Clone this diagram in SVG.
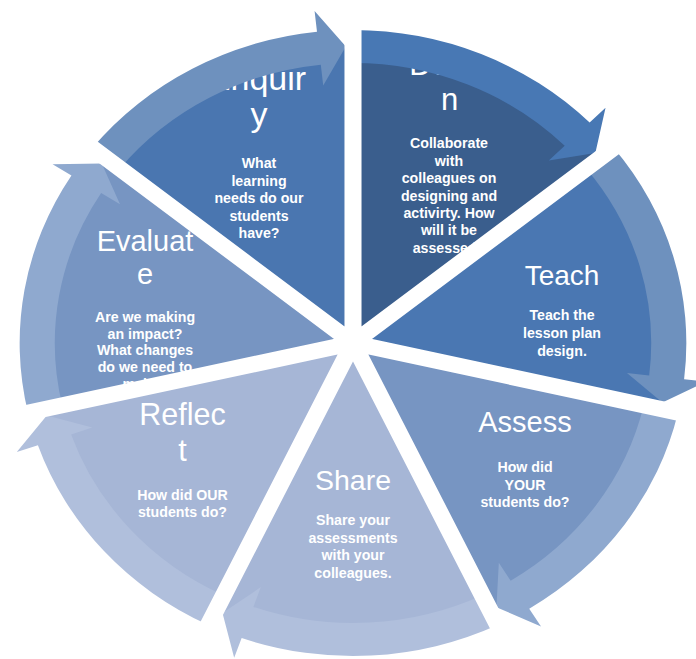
<svg xmlns="http://www.w3.org/2000/svg" width="696" height="659" viewBox="0 0 696 659">
<style>
.t{font-family:"Liberation Sans",Arial,sans-serif;font-size:29px;fill:#fff;text-anchor:middle}
.s{font-family:"Liberation Sans",Arial,sans-serif;font-size:14.2px;font-weight:bold;fill:#fff;text-anchor:middle}
.gap{stroke:#fff;stroke-width:16;fill:none}
</style>
<defs>
<clipPath id="cEnq"><path transform="translate(353 343) scale(1.065 1)" d="M0 0 L-232.20 -185.18 A297 297 0 0 1 0 -297 Z"/></clipPath>
<clipPath id="cDes"><path transform="translate(353 343) scale(1.065 1)" d="M0 0 L0 -297 A297 297 0 0 1 232.20 -185.18 Z"/></clipPath>
<clipPath id="cTea"><path transform="translate(353 343) scale(1.065 1)" d="M0 0 L232.20 -185.18 A297 297 0 0 1 289.55 66.09 Z"/></clipPath>
<clipPath id="cAss"><path transform="translate(353 343) scale(1.065 1)" d="M0 0 L289.55 66.09 A297 297 0 0 1 128.86 267.59 Z"/></clipPath>
<clipPath id="cSha"><path transform="translate(353 343) scale(1.065 1)" d="M0 0 L128.86 267.59 A297 297 0 0 1 -128.86 267.59 Z"/></clipPath>
<clipPath id="cRef"><path transform="translate(353 343) scale(1.065 1)" d="M0 0 L-128.86 267.59 A297 297 0 0 1 -289.55 66.09 Z"/></clipPath>
<clipPath id="cEva"><path transform="translate(353 343) scale(1.065 1)" d="M0 0 L-289.55 66.09 A297 297 0 0 1 -232.20 -185.18 Z"/></clipPath>
</defs>

<g id="enquiry">
<path transform="translate(353 343) scale(1.065 1)" fill="#4a76b0" d="M0 0 L-232.20 -185.18 A297 297 0 0 1 0 -297 Z"/>
<g clip-path="url(#cEnq)">
<text class="t" x="257" y="90" style="font-size:34px">Enquir</text>
<text class="t" x="259" y="125.5" style="font-size:34px">y</text>
<text class="s" x="259" y="168.3">What</text>
<text class="s" x="259" y="185.7">learning</text>
<text class="s" x="259" y="203.1">needs do our</text>
<text class="s" x="259" y="220.5">students</text>
<text class="s" x="259" y="237.9">have?</text>
</g>
</g>

<g id="design">
<path transform="translate(353 343) scale(1.065 1)" fill="#3a5e8d" d="M0 0 L0 -297 A297 297 0 0 1 232.20 -185.18 Z"/>
<g clip-path="url(#cDes)">
<text class="t" x="449" y="75" style="font-size:31px">Desig</text>
<text class="t" x="449.5" y="110" style="font-size:31px">n</text>
<text class="s" x="449" y="148.3">Collaborate</text>
<text class="s" x="449" y="165.6">with</text>
<text class="s" x="449" y="183">colleagues on</text>
<text class="s" x="449" y="200.5">designing and</text>
<text class="s" x="449" y="218">activirty. How</text>
<text class="s" x="449" y="235.4">will it be</text>
<text class="s" x="449" y="252.8">assessed?</text>
</g>
</g>

<g id="teach">
<path transform="translate(353 343) scale(1.065 1)" fill="#4a77b2" d="M0 0 L232.20 -185.18 A297 297 0 0 1 289.55 66.09 Z"/>
<g clip-path="url(#cTea)">
<text class="t" x="562" y="285" style="font-size:28px">Teach</text>
<text class="s" x="562" y="320">Teach the</text>
<text class="s" x="562" y="337.8">lesson plan</text>
<text class="s" x="562" y="355.5">design.</text>
</g>
</g>

<g id="assess">
<path transform="translate(353 343) scale(1.065 1)" fill="#7795c2" d="M0 0 L289.55 66.09 A297 297 0 0 1 128.86 267.59 Z"/>
<g clip-path="url(#cAss)">
<text class="t" x="525" y="432">Assess</text>
<text class="s" x="525" y="472">How did</text>
<text class="s" x="525" y="489.5">YOUR</text>
<text class="s" x="525" y="507">students do?</text>
</g>
</g>

<g id="share">
<path transform="translate(353 343) scale(1.065 1)" fill="#a6b6d6" d="M0 0 L128.86 267.59 A297 297 0 0 1 -128.86 267.59 Z"/>
<g clip-path="url(#cSha)">
<text class="t" x="353" y="490" style="font-size:28.5px">Share</text>
<text class="s" x="353" y="525">Share your</text>
<text class="s" x="353" y="542.5">assessments</text>
<text class="s" x="353" y="560">with your</text>
<text class="s" x="353" y="577.5">colleagues.</text>
</g>
</g>

<g id="reflect">
<path transform="translate(353 343) scale(1.065 1)" fill="#a6b6d6" d="M0 0 L-128.86 267.59 A297 297 0 0 1 -289.55 66.09 Z"/>
<g clip-path="url(#cRef)">
<text class="t" x="182.5" y="425" style="font-size:30.5px">Reflec</text>
<text class="t" x="182.5" y="461" style="font-size:30.5px">t</text>
<text class="s" x="182.5" y="500">How did OUR</text>
<text class="s" x="182.5" y="517.4">students do?</text>
</g>
</g>

<g id="evaluate">
<path transform="translate(353 343) scale(1.065 1)" fill="#7795c2" d="M0 0 L-289.55 66.09 A297 297 0 0 1 -232.20 -185.18 Z"/>
<g clip-path="url(#cEva)">
<text class="t" x="145" y="250.5">Evaluat</text>
<text class="t" x="145" y="284">e</text>
<text class="s" x="145" y="321.7">Are we making</text>
<text class="s" x="145" y="338.5">an impact?</text>
<text class="s" x="145" y="355.3">What changes</text>
<text class="s" x="145" y="372">do we need to</text>
<text class="s" x="145" y="388.8">make?</text>
</g>
</g>

<g id="connectors" transform="translate(353 343) scale(1.065 1)">
<path fill="#6e91be" d="M-244.71 -195.15 A313 313 0 0 1 -33.80 -311.17 L-36.07 -332.05 L-6.73 -296.42 L-27.97 -257.48 L-30.24 -278.36 A280 280 0 0 0 -218.91 -174.58 Z"/>
<path fill="#4878b4" d="M0 -313 A313 313 0 0 1 222.21 -220.44 L237.12 -235.23 L227.56 -190.08 L183.87 -182.41 L198.78 -197.20 A280 280 0 0 0 0 -280 Z"/>
<path fill="#6e91be" d="M244.71 -195.15 A313 313 0 0 1 310.89 36.29 L331.75 38.72 L290.49 59.40 L257.25 30.03 L278.11 32.46 A280 280 0 0 0 218.91 -174.58 Z"/>
<path fill="#8fa9cf" d="M305.15 69.65 A313 313 0 0 1 165.47 265.69 L176.57 283.52 L134.67 264.15 L136.92 219.85 L148.02 237.68 A280 280 0 0 0 272.98 62.31 Z"/>
<path fill="#b0bfdc" d="M135.80 282.00 A313 313 0 0 1 -104.55 295.02 L-111.57 314.82 L-122.55 269.99 L-86.52 244.12 L-93.53 263.92 A280 280 0 0 0 121.49 252.27 Z"/>
<path fill="#b0bfdc" d="M-135.80 282.00 A313 313 0 0 1 -295.85 102.19 L-315.70 109.05 L-287.50 72.52 L-244.81 84.56 L-264.66 91.42 A280 280 0 0 0 -121.49 252.27 Z"/>
<path fill="#8fa9cf" d="M-305.15 69.65 A313 313 0 0 1 -264.37 -167.58 L-282.10 -178.83 L-235.95 -179.56 L-218.76 -138.67 L-236.49 -149.91 A280 280 0 0 0 -272.98 62.31 Z"/>
</g>

<g id="gaps" transform="translate(353 343) scale(1.065 1)">
<path class="gap" d="M0 0 L0 -345 M0 0 L269.73 -215.10 M0 0 L336.35 76.77 M0 0 L149.69 310.83 M0 0 L-149.69 310.83 M0 0 L-336.35 76.77 M0 0 L-269.73 -215.10"/>
</g>
</svg>
